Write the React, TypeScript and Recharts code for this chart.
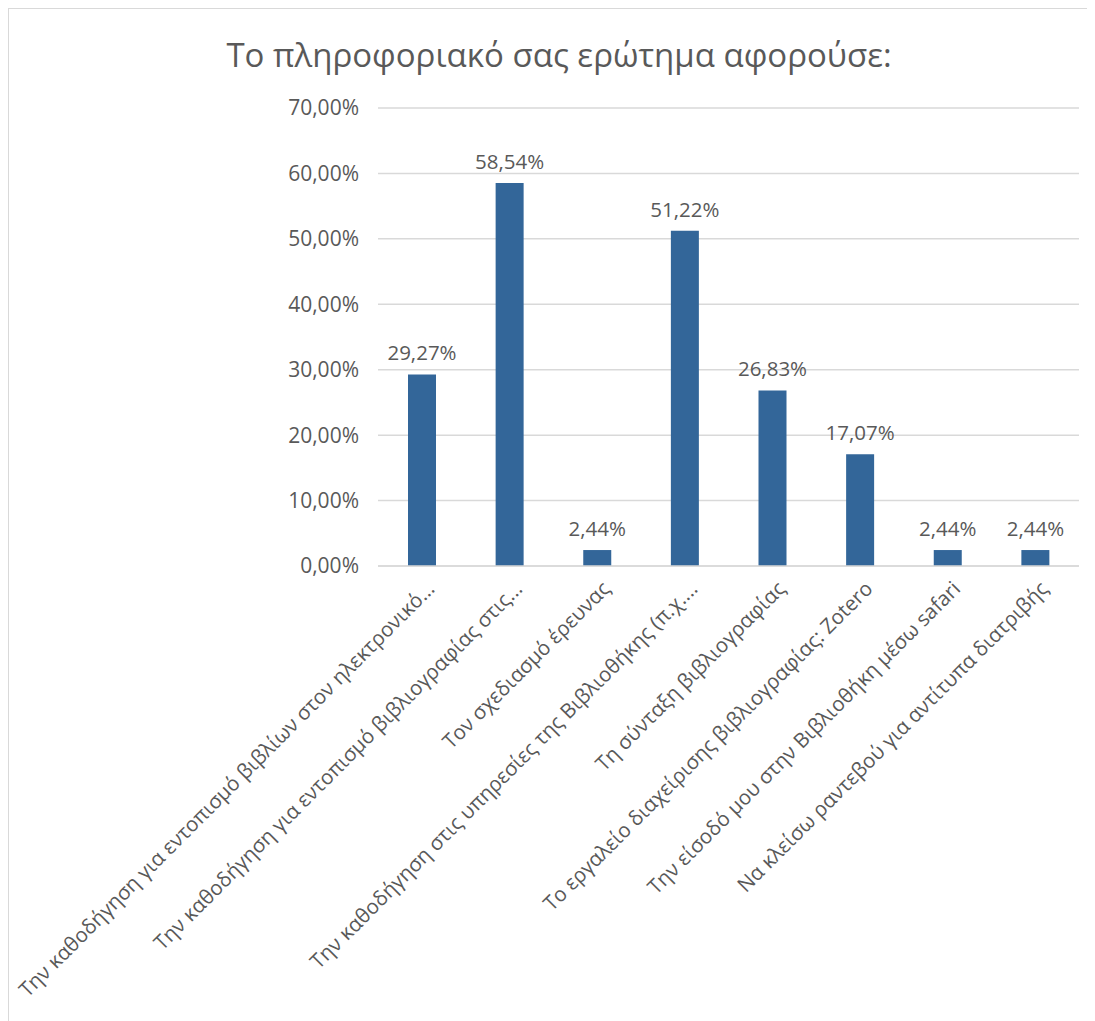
import { BarChart, Bar, XAxis, YAxis, CartesianGrid, LabelList } from "recharts";

const categories = [
  "Την καθοδήγηση για εντοπισμό  βιβλίων στον ηλεκτρονικό...",
  "Την καθοδήγηση για εντοπισμό βιβλιογραφίας στις...",
  "Τον σχεδιασμό έρευνας",
  "Την καθοδήγηση στις υπηρεσίες της Βιβλιοθήκης (π.χ....",
  "Τη σύνταξη βιβλιογραφίας",
  "Το εργαλείο διαχείρισης βιβλιογραφίας: Zotero",
  "Την είσοδό μου στην Βιβλιοθήκη μέσω safari",
  "Να κλείσω ραντεβού για αντίτυπα διατριβής",
];

const shares = [29.27, 58.54, 2.44, 51.22, 26.83, 17.07, 2.44, 2.44];

const yTicks = [0, 10, 20, 30, 40, 50, 60, 70];

const data = categories.map((name, i) => ({ name, value: shares[i] }));

const fmt = (v: number) => v.toFixed(2).replace(".", ",") + "%";

const FONT = "'Open Sans', sans-serif";
const TEXT = "#595959";

const XTick = (props: any) => {
  const { x, y, payload } = props;
  return (
    <g transform={`translate(${x + 9},${y + 11})`}>
      <text
        transform="rotate(-45)"
        textAnchor="end"
        dy="0.35em"
        fill={TEXT}
        fontSize={20.5}
        fontFamily={FONT}
      >
        {payload.value}
      </text>
    </g>
  );
};

export default function App() {
  return (
    <div
      style={{
        position: "relative",
        width: 1087,
        height: 1013,
        borderTop: "1px solid #d9d9d9",
        borderLeft: "1px solid #d9d9d9",
        boxSizing: "border-box",
        background: "#fff",
      }}
    >
      <div
        style={{
          position: "absolute",
          top: 23,
          left: 0,
          width: 1100,
          textAlign: "center",
          fontFamily: FONT,
          fontSize: 33,
          color: TEXT,
        }}
      >
        Το πληροφοριακό σας ερώτημα αφορούσε:
      </div>
      <BarChart
        width={1087}
        height={1013}
        data={data}
        margin={{ top: 99, right: 17, bottom: 16, left: 0 }}
      >
        <CartesianGrid vertical={false} stroke="#d9d9d9" strokeWidth={1.5} />
        <XAxis
          dataKey="name"
          interval={0}
          height={440}
          tickLine={false}
          axisLine={{ stroke: "#d9d9d9", strokeWidth: 1.5 }}
          tick={<XTick />}
        />
        <YAxis
          width={369}
          domain={[0, 70]}
          ticks={yTicks}
          tickFormatter={fmt}
          tickLine={false}
          axisLine={false}
          tickMargin={13}
          tick={{ fill: TEXT, fontSize: 21, fontFamily: FONT }}
        />
        <Bar dataKey="value" fill="#336699" barSize={28} isAnimationActive={false}>
          <LabelList
            dataKey="value"
            position="top"
            offset={14}
            formatter={(v: any) => fmt(Number(v))}
            fill={TEXT}
            fontSize={20.5}
            fontFamily={FONT}
          />
        </Bar>
      </BarChart>
    </div>
  );
}
